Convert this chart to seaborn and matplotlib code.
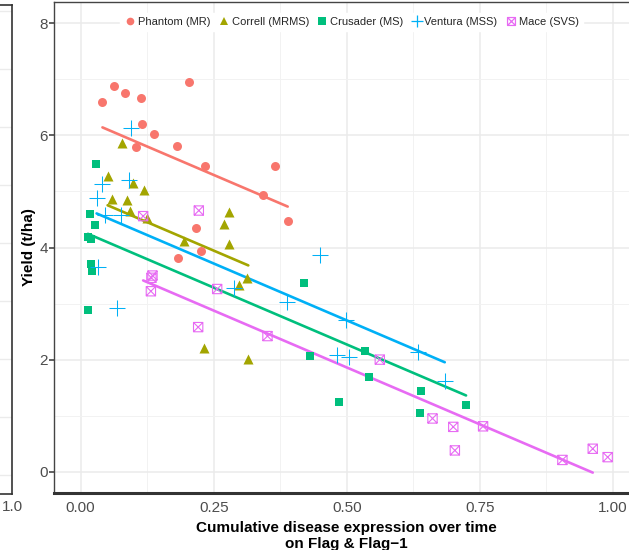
import numpy as np
import pandas as pd
import matplotlib
matplotlib.use("Agg")
import matplotlib.pyplot as plt
from matplotlib.path import Path
from matplotlib.lines import Line2D
import seaborn as sns

# ---------------- data ----------------
varieties = ["Phantom (MR)", "Correll (MRMS)", "Crusader (MS)", "Ventura (MSS)", "Mace (SVS)"]
colors = ["#F8766D", "#A3A500", "#00BF7D", "#00B0F6", "#E76BF3"]

phantom_x = [0.041, 0.0625, 0.083, 0.113, 0.203, 0.115, 0.137, 0.1045, 0.181, 0.233, 0.366, 0.343, 0.389, 0.216, 0.226, 0.182]
phantom_y = [6.59, 6.88, 6.76, 6.66, 6.95, 6.21, 6.03, 5.80, 5.81, 5.46, 5.45, 4.94, 4.48, 4.35, 3.93, 3.82]

correll_x = [0.0775, 0.0507, 0.0976, 0.119, 0.0588, 0.0863, 0.093, 0.124, 0.195, 0.278, 0.270, 0.279, 0.312, 0.297, 0.231, 0.315]
correll_y = [5.87, 5.27, 5.15, 5.03, 4.87, 4.85, 4.66, 4.53, 4.11, 4.64, 4.42, 4.07, 3.46, 3.33, 2.21, 2.01]

crusader_x = [0.028, 0.0175, 0.027, 0.013, 0.019, 0.019, 0.021, 0.0137, 0.419, 0.4315, 0.535, 0.542, 0.486, 0.639, 0.637, 0.724]
crusader_y = [5.49, 4.59, 4.41, 4.19, 4.15, 3.71, 3.58, 2.88, 3.37, 2.07, 2.15, 1.69, 1.24, 1.44, 1.04, 1.19]

ventura_x = [0.095, 0.041, 0.090, 0.030, 0.046, 0.0757, 0.0325, 0.069, 0.288, 0.388, 0.449, 0.498, 0.482, 0.505, 0.633, 0.684]
ventura_y = [6.13, 5.14, 5.21, 4.88, 4.58, 4.58, 3.65, 2.92, 3.28, 3.02, 3.87, 2.71, 2.08, 2.04, 2.13, 1.61]

mace_x = [0.1175, 0.222, 0.135, 0.133, 0.132, 0.2565, 0.2208, 0.351, 0.562, 0.661, 0.700, 0.703, 0.756, 0.905, 0.962, 0.990]
mace_y = [4.56, 4.66, 3.50, 3.46, 3.22, 3.26, 2.58, 2.42, 2.00, 0.95, 0.80, 0.38, 0.81, 0.21, 0.41, 0.26]

# fitted lines (common-slope model)
fit_slope = -4.06
fit_intercepts = [6.31, 4.96, 4.30, 4.73, 3.89]
fit_x_start = [0.041, 0.0507, 0.0137, 0.030, 0.1175]
fit_x_end = [0.389, 0.315, 0.724, 0.684, 0.962]

x_ticks = [0.00, 0.25, 0.50, 0.75, 1.00]
x_ticklabels = ["0.00", "0.25", "0.50", "0.75", "1.00"]
y_ticks = [0, 2, 4, 6, 8]
y_ticklabels = ["0", "2", "4", "6", "8"]

xs = [phantom_x, correll_x, crusader_x, ventura_x, mace_x]
ys = [phantom_y, correll_y, crusader_y, ventura_y, mace_y]

df = pd.concat([pd.DataFrame({"disease": x, "yield": y, "variety": v})
                for x, y, v in zip(xs, ys, varieties)], ignore_index=True)

fit_rows = []
for v, a, x0, x1 in zip(varieties, fit_intercepts, fit_x_start, fit_x_end):
    for xv in (x0, x1):
        fit_rows.append({"disease": xv, "yield": a + fit_slope * xv, "variety": v})
fit = pd.DataFrame(fit_rows)

# square-with-cross marker (ggplot shape 7)
box_x = Path(
    [(-1, -1), (1, -1), (1, 1), (-1, 1), (-1, -1), (-1, -1), (1, 1), (-1, 1), (1, -1)],
    [Path.MOVETO, Path.LINETO, Path.LINETO, Path.LINETO, Path.CLOSEPOLY,
     Path.MOVETO, Path.LINETO, Path.MOVETO, Path.LINETO],
)

marker_specs = [
    dict(marker="o", s=42, hollow=False, lw=0),
    dict(marker="^", s=52, hollow=False, lw=0),
    dict(marker="s", s=38, hollow=False, lw=0),
    dict(marker="+", s=120, hollow=False, lw=0.75),
    dict(marker=box_x, s=45, hollow=True, lw=0.8),
]

# ---------------- figure ----------------
sns.set_theme(style="white")
plt.rcParams["font.family"] = ["Liberation Sans", "DejaVu Sans"]

fig = plt.figure(figsize=(6.29, 5.5), dpi=100)

# partial neighbouring panel at left edge
ax0 = fig.add_axes([-0.5, 0.1018, 0.5191, 0.8891])
ax0.set_xlim(0, 1.0)
ax0.set_ylim(-0.33, 8.1)
ax0.set_yticks(range(0, 9))
ax0.set_yticklabels([])
ax0.set_xticks([1.0])
ax0.set_xticklabels(["1.0"], color="#4D4D4D", fontsize=11)
ax0.tick_params(axis="x", length=3, color="#4D4D4D", pad=1)
ax0.tick_params(axis="y", length=0)
ax0.grid(axis="y", color="#EBEBEB", lw=1.0)
ax0.grid(axis="x", visible=False)
for sp in ax0.spines.values():
    sp.set_color("#333333")
    sp.set_linewidth(1.2)
    sp.set_visible(True)

# main panel
ax = fig.add_axes([0.08585, 0.1036, 0.931, 0.8927])

sns.lineplot(data=fit, x="disease", y="yield", hue="variety", palette=colors,
             hue_order=varieties, lw=1.9, legend=False, ax=ax, zorder=2)

handles = []
for v, col, spec in zip(varieties, colors, marker_specs):
    sub = df[df["variety"] == v]
    kw = dict(s=spec["s"], linewidth=spec["lw"], zorder=3)
    if spec["hollow"]:
        kw["facecolor"] = "none"
        kw["edgecolor"] = col
    else:
        kw["color"] = col
    sns.scatterplot(data=sub, x="disease", y="yield", marker=spec["marker"], ax=ax,
                    legend=False, **kw)
    mfc = "none" if spec["hollow"] else col
    ms = np.sqrt(spec["s"]) * 0.85
    handles.append(Line2D([], [], ls="none", marker=spec["marker"], color=col,
                          markerfacecolor=mfc, markeredgecolor=col,
                          markeredgewidth=(0.9 if spec["lw"] else 0), markersize=ms))

ax.set_xlim(-0.05, 1.05)
ax.set_ylim(-0.38, 8.38)
ax.set_xticks(x_ticks)
ax.set_xticklabels(x_ticklabels)
ax.set_yticks(y_ticks)
ax.set_yticklabels(y_ticklabels)
ax.set_xticks([0.125, 0.375, 0.625, 0.875], minor=True)
ax.set_yticks([1, 3, 5, 7], minor=True)
ax.grid(which="major", color="#EBEBEB", lw=1.1, zorder=0)
ax.grid(which="minor", color="#F2F2F2", lw=0.7, zorder=0)
ax.set_axisbelow(True)
ax.tick_params(axis="y", which="major", length=3.5, color="#4D4D4D", labelcolor="#4D4D4D",
               labelsize=11, pad=1, left=True)
ax.tick_params(axis="x", which="major", length=0, labelcolor="#4D4D4D", labelsize=11, pad=6)
ax.tick_params(which="minor", length=0)

for side in ["left", "top"]:
    ax.spines[side].set_color("#444444")
    ax.spines[side].set_linewidth(1.0)
ax.spines["bottom"].set_color("#333333")
ax.spines["bottom"].set_linewidth(2.2)
ax.spines["right"].set_visible(False)

ax.set_xlabel("Cumulative disease expression over time\non Flag & Flag\u22121",
              fontsize=11, fontweight="bold", color="black", labelpad=4, linespacing=1.2)
ax.set_ylabel("Yield (t/ha)", fontsize=11, fontweight="bold", color="black", labelpad=2)

leg = ax.legend(handles, varieties, loc="center", bbox_to_anchor=(0.559, 1 - 22 / 550),
                bbox_transform=fig.transFigure, ncol=5, frameon=True, fontsize=8,
                handletextpad=0.2, columnspacing=0.7, handlelength=1.0,
                borderpad=0.4, borderaxespad=0)
leg.get_frame().set_facecolor("white")
leg.get_frame().set_edgecolor("white")
leg.get_frame().set_alpha(1)

fig.savefig("out.png", dpi=100)
